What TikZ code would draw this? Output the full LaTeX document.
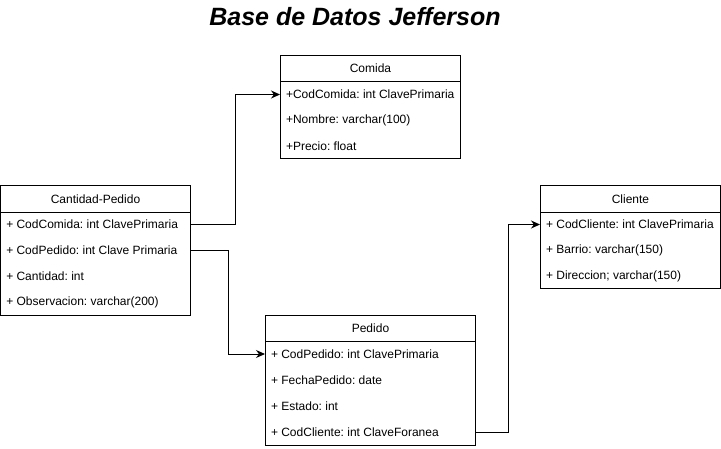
\documentclass[tikz,border=0pt]{standalone}
\usepackage{fontspec}
\setmainfont{Liberation Sans}
\usetikzlibrary{arrows.meta}
\frenchspacing
\newcommand{\rowtxt}[2]{\raisebox{-1pt}{\makebox[#1][l]{#2}}}
\begin{document}
\begin{tikzpicture}[x=1pt,y=-1pt,line width=1pt,
  hdr/.style={draw, rectangle, inner sep=0pt, font=\fontsize{12}{14}\selectfont},
  body/.style={draw, rectangle, inner sep=0pt},
  row/.style={rectangle, inner xsep=5.5pt, inner ysep=0pt, minimum height=26pt, anchor=center, font=\fontsize{12}{14}\selectfont},
  link/.style={draw, -{Stealth[length=9pt,width=8pt]}, rounded corners=0pt}]
\useasboundingbox (0,0) rectangle (721,448);
\node[font=\bfseries\itshape\fontsize{25}{29}\selectfont] (title) at (355,17) {Base de Datos Jefferson};

% Comida
\node[hdr, minimum width=180pt, minimum height=26pt] (comidaH) at (370.5,68) {Comida};
\node[body, minimum width=180pt, minimum height=77pt] (comidaB) at (370.5,119.5) {};
\node[row] (comida1) at (370.5,94.5) {\rowtxt{169pt}{+CodComida: int ClavePrimaria}};
\node[row] (comida2) at (370.5,120.5) {\rowtxt{169pt}{+Nombre: varchar(100)}};
\node[row] (comida3) at (370.5,146.5) {\rowtxt{169pt}{+Precio: float}};

% Cantidad-Pedido
\node[hdr, minimum width=189.5pt, minimum height=26.5pt] (cantH) at (95.5,198.75) {Cantidad-Pedido};
\node[body, minimum width=189.5pt, minimum height=103.5pt] (cantB) at (95.5,263.75) {};
\node[row] (cant1) at (95.5,224) {\rowtxt{178.5pt}{+ CodComida: int ClavePrimaria}};
\node[row] (cant2) at (95.5,250) {\rowtxt{178.5pt}{+ CodPedido: int Clave Primaria}};
\node[row] (cant3) at (95.5,276) {\rowtxt{178.5pt}{+ Cantidad: int}};
\node[row] (cant4) at (95.5,302) {\rowtxt{178.5pt}{+ Observacion: varchar(200)}};

% Cliente
\node[hdr, minimum width=180pt, minimum height=26.5pt] (clienteH) at (630.5,198.75) {Cliente};
\node[body, minimum width=180pt, minimum height=76pt] (clienteB) at (630.5,250) {};
\node[row] (cliente1) at (630.5,224.5) {\rowtxt{169pt}{+ CodCliente: int ClavePrimaria}};
\node[row] (cliente2) at (630.5,250.5) {\rowtxt{169pt}{+ Barrio: varchar(150)}};
\node[row] (cliente3) at (630.5,276.5) {\rowtxt{169pt}{+ Direccion; varchar(150)}};

% Pedido
\node[hdr, minimum width=210pt, minimum height=26pt] (pedidoH) at (370.5,328.5) {Pedido};
\node[body, minimum width=210pt, minimum height=103.5pt] (pedidoB) at (370.5,393.25) {};
\node[row] (pedido1) at (370.5,354) {\rowtxt{199pt}{+ CodPedido: int ClavePrimaria}};
\node[row] (pedido2) at (370.5,380) {\rowtxt{199pt}{+ FechaPedido: date}};
\node[row] (pedido3) at (370.5,406) {\rowtxt{199pt}{+ Estado: int}};
\node[row] (pedido4) at (370.5,432) {\rowtxt{199pt}{+ CodCliente: int ClaveForanea}};

% connectors
\draw[link] (cant1.east) -- (235.5,224) |- (comida1.west);
\draw[link] (cant2.east) -- (228,250) |- (pedido1.west);
\draw[link] (pedido4.east) -- (508,432) |- (cliente1.west);
\end{tikzpicture}
\end{document}
